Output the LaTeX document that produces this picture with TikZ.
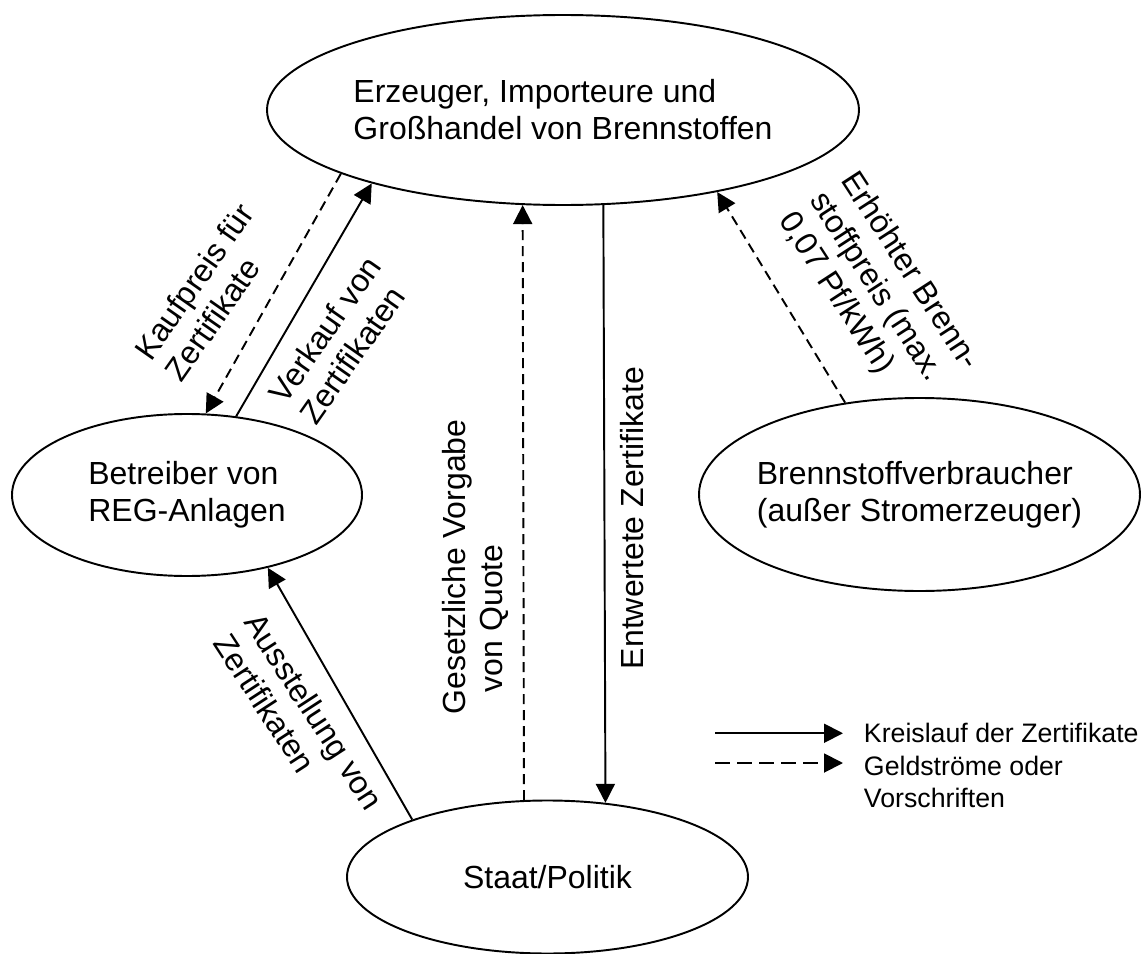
\documentclass[tikz,border=0pt]{standalone}
\usepackage{fontspec}
\setmainfont{Liberation Sans}
\usetikzlibrary{arrows.meta,shapes.geometric}

\begin{document}
\begin{tikzpicture}[>={Triangle[length=0.38cm,width=0.38cm]}, line width=1.1pt,
    font=\fontsize{18.2}{21.05}\selectfont,
    party/.style={draw, ellipse, inner xsep=-0.2cm, inner ysep=0pt, align=left},
    cert/.style={->},
    money/.style={->, dash pattern=on 0.2cm off 0.12cm},
    lbl/.style={inner sep=0pt, align=left},
    key/.style={inner xsep=0.4cm, inner ysep=0pt, align=left, font=\fontsize{15.2}{18}\selectfont}]
\useasboundingbox (0,0) rectangle (22.82,-19.08);

% market participants
\node[party, minimum width=11.84cm, minimum height=3.8cm] (prod) at (11.26,-2.2) {Erzeuger, Importeure und\\Großhandel von Brennstoffen};
\node[party, minimum width=7cm, minimum height=3.24cm] (reg) at (3.74,-9.9) {Betreiber von\\REG-Anlagen};
\node[party, minimum width=8.82cm, minimum height=3.86cm] (cons) at (18.39,-9.89) {Brennstoffverbraucher\\(außer Stromerzeuger)};
\node[party, minimum width=8.02cm, minimum height=3.06cm] (state) at (10.95,-17.54) {Staat/Politik};

% flows between them
\draw[money] (prod.196.8) -- (reg.77.4);
\draw[cert] (reg.58.4) -- (prod.201.8);
\draw[money] (state.107.2) -- (prod.247.5);
\draw[cert] (prod.293) -- (state.52.9);
\draw[money] (cons.129.4) -- (prod.332.2);
\draw[cert] (state.157.1) -- (reg.318.4);

% flow labels
\node[lbl, rotate=55] (buy) at (4.18,-5.84) {Kaufpreis für\\Zertifikate};
\node[lbl, rotate=55] (sell) at (6.8,-6.8) {Verkauf von\\Zertifikaten};
\node[lbl, rotate=90] (quota) at (9.514,-11.34) {Gesetzliche Vorgabe\\\hspace*{0.45cm}von Quote};
\node[lbl, rotate=90] (void) at (12.634,-10.36) {Entwertete Zertifikate};
\node[lbl, rotate=-57] (price) at (17.562,-5.824) {Erhöhter Brenn-\\stoffpreis (max.\\0,07 Pf/kWh)};
\node[lbl, rotate=-57] (issue) at (5.978,-14.43) {Ausstellung von\\Zertifikaten};

% legend
\coordinate (k0) at (14.3,-14.665);
\coordinate (g0) at (14.3,-15.26);
\node[key, anchor=west] (kreis) at (16.86,-14.665) {Kreislauf der Zertifikate};
\node[key, anchor=north west] (geld) at (16.86,-15.104) {Geldströme oder\\Vorschriften};
\draw[cert] (k0) -- (kreis.west);
\draw[money, dash pattern=on 0.3cm off 0.14cm] (g0) -- (g0 -| geld.west);
\end{tikzpicture}
\end{document}
